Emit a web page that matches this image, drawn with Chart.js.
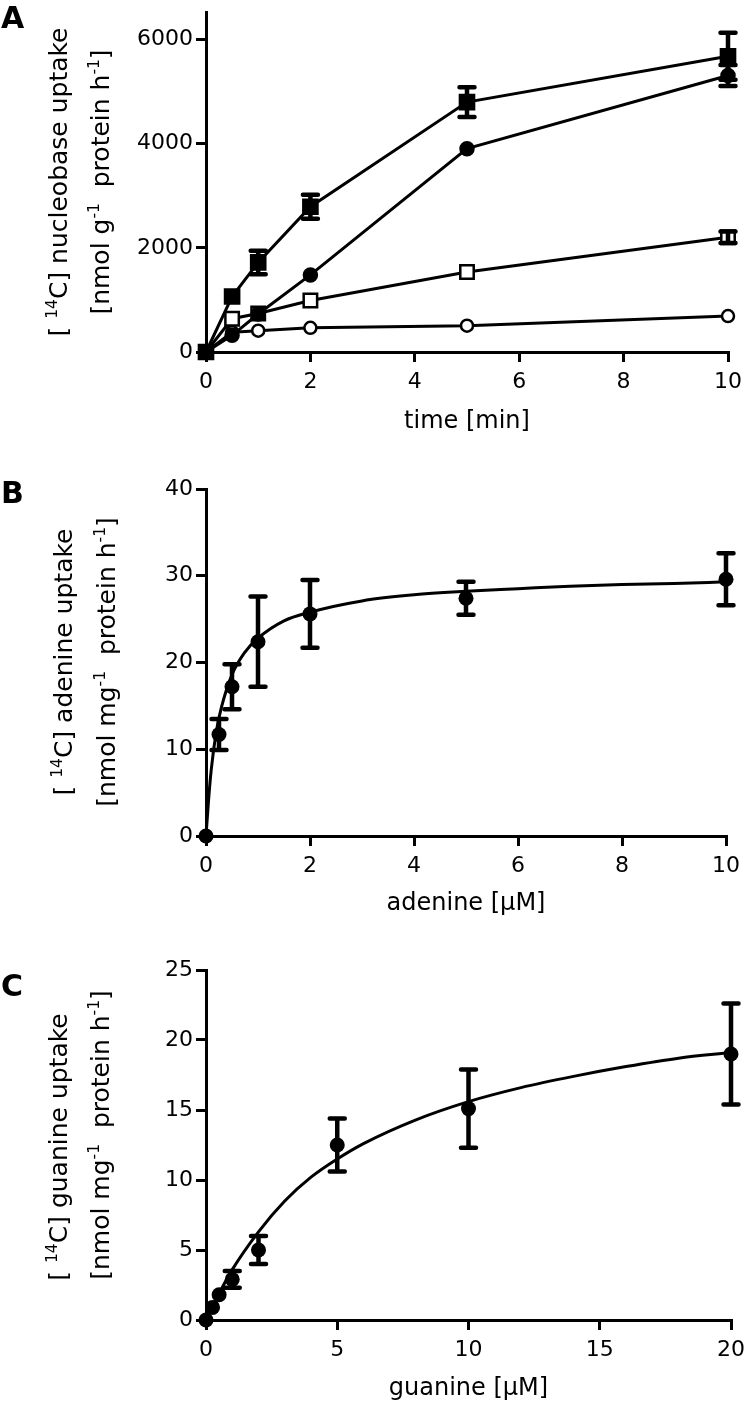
<!DOCTYPE html>
<html><head><meta charset="utf-8">
<script src="https://cdn.jsdelivr.net/npm/chart.js@4.4.1/dist/chart.umd.min.js"></script>
<style>
html,body{margin:0;padding:0;background:#fff;}
#wrap{position:relative;width:747px;height:1426px;overflow:hidden;}
canvas{position:absolute;left:0;}
</style></head><body>
<div id="wrap">
<canvas id="cA" width="747" height="470" style="top:0px"></canvas>
<canvas id="cB" width="747" height="470" style="top:470px"></canvas>
<canvas id="cC" width="747" height="486" style="top:940px"></canvas>
</div>
<script>
// ---------- Panel A data ----------
const timeMin = [0, 0.5, 1, 2, 5, 10];
const filledSquares = [0, 1065, 1720, 2790, 4800, 5680];
const filledSquaresErr = [0, 0, 225, 230, 285, 450];
const filledCircles = [0, 320, 730, 1480, 3905, 5310];
const filledCirclesErr = [0, 0, 0, 0, 0, 200];
const openSquares = [0, 640, 740, 990, 1535, 2205];
const openSquaresErr = [0, 0, 0, 0, 0, 110];
const openCircles = [0, 380, 410, 465, 505, 690];
const aXTicks = [0, 2, 4, 6, 8, 10];
const aYTicks = [0, 2000, 4000, 6000];

// ---------- Panel B data ----------
const adenineConc = [0, 0.25, 0.5, 1, 2, 5, 10];
const adenineUptake = [0, 11.7, 17.2, 22.4, 25.6, 27.4, 29.6];
const adenineErr = [0, 1.8, 2.6, 5.2, 3.9, 1.9, 3.0];
const adenineFitX = [0, 0.05, 0.1, 0.2, 0.3, 0.5, 0.75, 1, 1.5, 2, 3, 4, 5, 6, 7, 8, 9, 10];
const adenineFitY = [0, 4.2, 7.6, 12.1, 14.9, 18.6, 21.2, 22.8, 24.8, 25.8, 27.1, 27.8, 28.2, 28.5, 28.8, 29.0, 29.1, 29.3];
const bXTicks = [0, 2, 4, 6, 8, 10];
const bYTicks = [0, 10, 20, 30, 40];

// ---------- Panel C data ----------
const guanineConc = [0, 0.25, 0.5, 1, 2, 5, 10, 20];
const guanineUptake = [0, 0.9, 1.8, 2.9, 5.0, 12.5, 15.1, 19.0];
const guanineErr = [0, 0, 0, 0.6, 1.0, 1.9, 2.8, 3.6];
const guanineFitX = [0, 0.5, 1, 2, 3, 4, 5, 6, 8, 10, 12, 14, 16, 18, 20];
const guanineFitY = [0, 1.9, 3.6, 6.3, 8.5, 10.2, 11.5, 12.6, 14.3, 15.6, 16.6, 17.4, 18.1, 18.7, 19.1];
const cXTicks = [0, 5, 10, 15, 20];
const cYTicks = [0, 5, 10, 15, 20, 25];

const FONT = "'DejaVu Sans', 'Liberation Sans', sans-serif";
Chart.defaults.font.family = FONT;
Chart.defaults.color = '#000';

const pts = (xs, ys) => xs.map((x, i) => ({x: x, y: ys[i]}));

const errorBarPlugin = {
  id: 'errorBars',
  afterDatasetsDraw(chart) {
    const ctx = chart.ctx, ys = chart.scales.y;
    chart.data.datasets.forEach((ds, i) => {
      if (!ds.errors) return;
      const meta = chart.getDatasetMeta(i);
      ctx.save();
      ctx.strokeStyle = '#000';
      ctx.lineWidth = 4.5;
      ctx.lineCap = 'round';
      meta.data.forEach((pt, j) => {
        const e = ds.errors[j];
        if (!e) return;
        const v = ds.data[j].y;
        const x = pt.x;
        const yt = ys.getPixelForValue(v + e), yb = ys.getPixelForValue(v - e);
        ctx.beginPath();
        ctx.moveTo(x, yt); ctx.lineTo(x, yb);
        ctx.moveTo(x - 7.5, yt); ctx.lineTo(x + 7.5, yt);
        ctx.moveTo(x - 7.5, yb); ctx.lineTo(x + 7.5, yb);
        ctx.stroke();
      });
      ctx.restore();
    });
  }
};

function drawRich(ctx, segs, size) {
  let total = 0;
  const parts = segs.map(s => {
    const fs = s.sup ? size * 0.62 : size;
    ctx.font = fs + 'px ' + FONT;
    const w = ctx.measureText(s.t).width;
    total += w;
    return {t: s.t, fs: fs, w: w, sup: s.sup};
  });
  let x = -total / 2;
  parts.forEach(p => {
    ctx.font = p.fs + 'px ' + FONT;
    ctx.fillText(p.t, x, p.sup ? -size * 0.42 : 0);
    x += p.w;
  });
}

const labelPlugin = {
  id: 'panelText',
  afterDraw(chart, args, o) {
    const ctx = chart.ctx, ca = chart.chartArea;
    ctx.save();
    ctx.fillStyle = '#000';
    ctx.textBaseline = 'alphabetic';
    ctx.textAlign = 'left';
    ctx.font = 'bold 30px ' + FONT;
    ctx.fillText(o.panel, o.panelX, o.panelY);
    ctx.textAlign = 'center';
    ctx.font = '24px ' + FONT;
    ctx.fillText(o.xTitle, (ca.left + ca.right) / 2, ca.bottom + o.xTitleOffset);
    ctx.textAlign = 'left';
    o.yLines.forEach((segs, k) => {
      ctx.save();
      ctx.translate(o.yBase[k], o.yCenter[k]);
      ctx.rotate(-Math.PI / 2);
      drawRich(ctx, segs, 25);
      ctx.restore();
    });
    ctx.restore();
  }
};

function axis(min, max, ticks, fix, isX) {
  return {
    type: 'linear', min: min, max: max, position: isX ? 'bottom' : 'left',
    border: {display: true, color: '#000', width: 3},
    grid: {display: true, drawOnChartArea: false, drawTicks: true, tickLength: 10, color: '#000', lineWidth: 3},
    ticks: {color: '#000', font: {size: 22, family: FONT}, padding: isX ? 7 : 3, autoSkip: false, maxRotation: 0,
      callback: v => String(v)},
    afterBuildTicks: s => { s.ticks = ticks.map(v => ({value: v})); },
    afterFit: s => {
      if (isX) s.height = fix; else s.width = fix;
      s.paddingTop = 0; s.paddingBottom = 0; s.paddingLeft = 0; s.paddingRight = 0;
    }
  };
}

function makeChart(id, datasets, xr, yr, layout, text) {
  return new Chart(document.getElementById(id), {
    type: 'scatter',
    data: {datasets: datasets},
    options: {
      responsive: false, animation: false,
      layout: {padding: layout.pad},
      scales: {
        x: axis(xr[0], xr[1], xr[2], layout.xh, true),
        y: axis(yr[0], yr[1], yr[2], layout.yw, false)
      },
      plugins: {legend: {display: false}, tooltip: {enabled: false}, panelText: text}
    },
    plugins: [errorBarPlugin, labelPlugin]
  });
}

const lineDs = (data, style, r, fill, errors) => ({
  data: data, showLine: true, borderColor: '#000', borderWidth: 3, tension: 0, clip: false,
  pointStyle: style, pointRadius: r, pointBorderWidth: 2.5, pointBorderColor: '#000',
  pointBackgroundColor: fill ? '#000' : '#fff', errors: errors
});

// Panel A
makeChart('cA', [
  lineDs(pts(timeMin, filledSquares), 'rect', 10, true, filledSquaresErr),
  lineDs(pts(timeMin, filledCircles), 'circle', 6.5, true, filledCirclesErr),
  lineDs(pts(timeMin, openSquares), 'rect', 9.5, false, openSquaresErr),
  lineDs(pts(timeMin, openCircles), 'circle', 6, false, null)
], [0, 10, aXTicks], [0, 6520, aYTicks],
{pad: {left: 0, right: 19, top: 2, bottom: 0}, xh: 118, yw: 206},
{panel: 'A', panelX: 1, panelY: 28, xTitle: 'time [min]', xTitleOffset: 76,
 yBase: [67, 109], yCenter: [182, 182],
 yLines: [
  [{t: '[ '}, {t: '14', sup: true}, {t: 'C] nucleobase uptake'}],
  [{t: '[nmol g'}, {t: '-1', sup: true}, {t: '  protein h'}, {t: '-1', sup: true}, {t: ']'}]
 ]});

// Panel B
makeChart('cB', [
  {data: pts(adenineConc, adenineUptake), showLine: false, clip: false, pointStyle: 'circle', pointRadius: 7.5,
   pointBackgroundColor: '#000', pointBorderColor: '#000', pointBorderWidth: 0, errors: adenineErr},
  {data: pts(adenineFitX, adenineFitY), showLine: true, borderColor: '#000', borderWidth: 3,
   cubicInterpolationMode: 'monotone', pointRadius: 0, clip: false}
], [0, 10, bXTicks], [0, 40, bYTicks],
{pad: {left: 0, right: 21, top: 19, bottom: 0}, xh: 104, yw: 206},
{panel: 'B', panelX: 1, panelY: 33, xTitle: 'adenine [µM]', xTitleOffset: 74,
 yBase: [72, 115], yCenter: [192, 192],
 yLines: [
  [{t: '[ '}, {t: '14', sup: true}, {t: 'C] adenine uptake'}],
  [{t: '[nmol mg'}, {t: '-1', sup: true}, {t: '  protein h'}, {t: '-1', sup: true}, {t: ']'}]
 ]});

// Panel C
makeChart('cC', [
  {data: pts(guanineConc, guanineUptake), showLine: false, clip: false, pointStyle: 'circle', pointRadius: 7.5,
   pointBackgroundColor: '#000', pointBorderColor: '#000', pointBorderWidth: 0, errors: guanineErr},
  {data: pts(guanineFitX, guanineFitY), showLine: true, borderColor: '#000', borderWidth: 3,
   cubicInterpolationMode: 'monotone', pointRadius: 0, clip: false}
], [0, 20, cXTicks], [0, 25, cYTicks],
{pad: {left: 0, right: 16, top: 30, bottom: 0}, xh: 106, yw: 206},
{panel: 'C', panelX: 1, panelY: 56, xTitle: 'guanine [µM]', xTitleOffset: 75,
 yBase: [67, 109], yCenter: [207, 195],
 yLines: [
  [{t: '[ '}, {t: '14', sup: true}, {t: 'C] guanine uptake'}],
  [{t: '[nmol mg'}, {t: '-1', sup: true}, {t: '  protein h'}, {t: '-1', sup: true}, {t: ']'}]
 ]});
</script>
</body></html>
